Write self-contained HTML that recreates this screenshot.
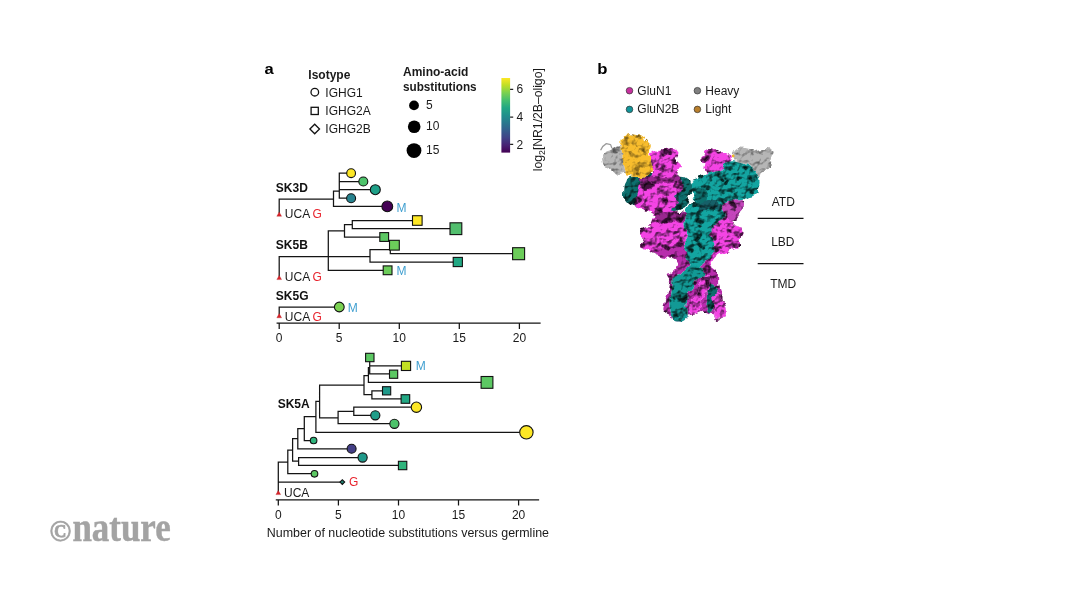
<!DOCTYPE html>
<html lang="en"><head><meta charset="utf-8"><title>Figure</title>
<style>
html,body{margin:0;padding:0;background:#fff}
body{width:1066px;height:600px;overflow:hidden;position:relative}
svg{position:absolute;left:0;top:0;display:block}
text{font-family:"Liberation Sans",sans-serif;font-size:12px;fill:#1a1a1a}
.b{font-weight:bold;fill:#111}
.sb{font-weight:bold;font-size:12px}
.pl{font-weight:bold;font-size:15.5px;fill:#000}
.r{fill:#e8232d}
.m{fill:#3f9fd0}
.logo{font-family:"Liberation Serif",serif;font-weight:bold;fill:#a3a3a3;font-size:33px}
.mg{fill:#f444e4}
.mgd{fill:#c445bb}
.mgs{fill:#b82cac}
.tls{fill:#129995}
.sh{fill:#1a001a;fill-opacity:.42}
.tl{fill:#13a5a1}
.tld{fill:#0d6f6d}
.yl{fill:#f8bd2d}
.gy{fill:#b6b6b6}
</style></head>
<body>
<svg width="1066" height="600" viewBox="0 0 1066 600">
<defs><linearGradient id="vir" x1="0" y1="0" x2="0" y2="1"><stop offset="0.0" stop-color="#fde724"/><stop offset="0.1" stop-color="#bdde26"/><stop offset="0.2" stop-color="#79d151"/><stop offset="0.3" stop-color="#44be70"/><stop offset="0.4" stop-color="#22a784"/><stop offset="0.5" stop-color="#20908c"/><stop offset="0.6" stop-color="#29788e"/><stop offset="0.7" stop-color="#345e8d"/><stop offset="0.8" stop-color="#404387"/><stop offset="0.9" stop-color="#482374"/><stop offset="1.0" stop-color="#440154"/></linearGradient>
<filter id="bump" x="-10%" y="-10%" width="120%" height="120%" color-interpolation-filters="sRGB">
<feTurbulence type="fractalNoise" baseFrequency="0.115" numOctaves="3" seed="11" result="n"/>
<feDisplacementMap in="SourceGraphic" in2="n" scale="7" xChannelSelector="R" yChannelSelector="G" result="d"/>
<feDiffuseLighting in="n" surfaceScale="6.5" diffuseConstant="1.32" lighting-color="#ffffff" result="l"><feDistantLight azimuth="240" elevation="52"/></feDiffuseLighting>
<feComponentTransfer in="l" result="l2"><feFuncR type="linear" slope="0.72" intercept="0.28"/><feFuncG type="linear" slope="0.72" intercept="0.28"/><feFuncB type="linear" slope="0.72" intercept="0.28"/></feComponentTransfer>
<feComposite in="l2" in2="d" operator="in" result="lc"/>
<feBlend in="d" in2="lc" mode="multiply" result="m"/>
<feColorMatrix in="n" type="matrix" values="0 0 0 0 0  0 0 0 0 0  0 0 0 0 0  0 0 0 -7 2.85" result="sp"/>
<feComponentTransfer in="sp" result="sp2"><feFuncA type="linear" slope="0.72"/></feComponentTransfer>
<feComposite in="sp2" in2="d" operator="in" result="sc"/>
<feMerge><feMergeNode in="m"/><feMergeNode in="sc"/></feMerge>
</filter>
<filter id="bump2" x="-10%" y="-10%" width="120%" height="120%" color-interpolation-filters="sRGB">
<feTurbulence type="fractalNoise" baseFrequency="0.115" numOctaves="3" seed="11" result="n"/>
<feDisplacementMap in="SourceGraphic" in2="n" scale="7" xChannelSelector="R" yChannelSelector="G" result="d"/>
<feDiffuseLighting in="n" surfaceScale="4" diffuseConstant="1.32" lighting-color="#ffffff" result="l"><feDistantLight azimuth="240" elevation="52"/></feDiffuseLighting>
<feComponentTransfer in="l" result="l2"><feFuncR type="linear" slope="0.6" intercept="0.4"/><feFuncG type="linear" slope="0.6" intercept="0.4"/><feFuncB type="linear" slope="0.6" intercept="0.4"/></feComponentTransfer>
<feComposite in="l2" in2="d" operator="in" result="lc"/>
<feBlend in="d" in2="lc" mode="multiply" result="m"/>
<feColorMatrix in="n" type="matrix" values="0 0 0 0 0  0 0 0 0 0  0 0 0 0 0  0 0 0 -7 2.55" result="sp"/>
<feComponentTransfer in="sp" result="sp2"><feFuncA type="linear" slope="0.5"/></feComponentTransfer>
<feComposite in="sp2" in2="d" operator="in" result="sc"/>
<feMerge><feMergeNode in="m"/><feMergeNode in="sc"/></feMerge>
</filter>
</defs>
<rect width="1066" height="600" fill="#fff"/>
<path d="M279.2 199.0V212.5M279.2 199.0H333.5M333.5 191.0V206.3M333.5 206.3H387.3M333.5 191.0H339.3M339.3 173.2V198.2M339.3 173.2H351.1M339.3 181.5H363.3M339.3 189.7H375.3M339.3 198.2H351.1M279.2 256.5V276.0M279.2 256.5H370.0M328.3 230.8V270.3M328.3 270.3H387.6M370.0 249.7V262.0M370.0 262.0H457.8M370.0 249.7H390.3M390.3 245.2V253.5M390.3 253.5H518.6M328.3 230.8H344.5M344.5 224.5V237.0M344.5 237.0H384.2M344.5 224.5H352.3M352.3 220.5V228.7M352.3 220.5H417.3M352.3 228.7H455.9M279.2 307.0V314.0M279.2 307.0H339.3M277.2 323.2H540.0M279.2 323.2V328.3M339.2 323.2V328.3M399.3 323.2V328.3M459.3 323.2V328.3M519.4 323.2V328.3M278.3 462.0V491.5M278.3 462.0H287.8M278.3 482.1H342.3M287.8 450.0V473.7M287.8 450.0H292.6M287.8 473.7H314.5M292.6 438.6V461.2M292.6 438.6H297.8M292.6 461.2H298.6M298.6 457.5V465.4M298.6 457.5H362.6M298.6 465.4H402.6M297.8 428.5V448.8M297.8 428.5H304.3M297.8 448.8H351.6M304.3 416.7V440.5M304.3 416.7H315.9M304.3 440.5H313.6M315.9 401.3V432.3M315.9 401.3H319.6M315.9 432.3H526.4M319.6 385.1V417.8M319.6 385.1H364.0M319.6 417.8H338.1M338.1 411.4V423.6M338.1 411.4H353.8M338.1 423.6H394.4M353.8 407.1V415.3M353.8 407.1H416.3M353.8 415.3H375.3M364.0 375.5V394.6M364.0 375.5H368.4M364.0 394.6H371.9M371.9 390.8V398.9M371.9 390.8H386.6M371.9 398.9H405.4M368.4 367.5V382.3M368.4 382.3H487.0M368.4 367.5H369.7M369.7 357.5V373.9M369.7 365.8H406.0M369.7 373.9H393.6M276.4 499.9H538.5M278.3 499.9V504.8M338.4 499.9V504.8M398.5 499.9V504.8M458.5 499.9V504.8M518.6 499.9V504.8" fill="none" stroke="#141414" stroke-width="1.25" stroke-linecap="square"/>
<g stroke="#111" stroke-width="1.1"><circle cx="351.1" cy="173.2" r="4.4" fill="#fde725"/><circle cx="363.3" cy="181.5" r="4.5" fill="#4ec36b"/><circle cx="375.3" cy="189.7" r="5.0" fill="#1fa088"/><circle cx="351.1" cy="198.2" r="4.5" fill="#26828e"/><circle cx="387.3" cy="206.4" r="5.4" fill="#440154"/><rect x="412.5" y="215.7" width="9.6" height="9.6" fill="#fde725"/><rect x="450.0" y="222.8" width="11.8" height="11.8" fill="#52bf6e"/><rect x="379.8" y="232.6" width="8.8" height="8.8" fill="#5cc863"/><rect x="389.5" y="240.3" width="9.8" height="9.8" fill="#6ccd5a"/><rect x="512.6" y="247.7" width="12.0" height="12.0" fill="#6ccd5a"/><rect x="453.2" y="257.4" width="9.2" height="9.2" fill="#22a884"/><rect x="383.2" y="265.9" width="8.8" height="8.8" fill="#6ccd5a"/><circle cx="339.3" cy="307.0" r="4.9" fill="#7ad151"/><rect x="365.6" y="353.3" width="8.4" height="8.4" fill="#5cc863"/><rect x="401.4" y="361.3" width="9.2" height="9.2" fill="#c2df23"/><rect x="389.5" y="370.1" width="8.2" height="8.2" fill="#5cc863"/><rect x="481.1" y="376.5" width="11.8" height="11.8" fill="#5cc863"/><rect x="382.5" y="386.7" width="8.2" height="8.2" fill="#1f998a"/><rect x="401.1" y="394.7" width="8.6" height="8.6" fill="#22a884"/><circle cx="416.4" cy="407.2" r="5.2" fill="#fde725"/><circle cx="375.3" cy="415.3" r="4.6" fill="#1f9e89"/><circle cx="394.4" cy="423.8" r="4.6" fill="#4ec36b"/><circle cx="526.4" cy="432.3" r="6.7" fill="#fde725"/><circle cx="313.6" cy="440.5" r="3.3" fill="#2fb47c"/><circle cx="351.6" cy="448.8" r="4.5" fill="#433e85"/><circle cx="362.6" cy="457.5" r="4.6" fill="#1f998a"/><rect x="398.4" y="461.3" width="8.4" height="8.4" fill="#2fb47c"/><circle cx="314.5" cy="473.8" r="3.3" fill="#5cc863"/><path d="M339.9 482.1L342.3 479.7L344.7 482.1L342.3 484.5Z" fill="#1f8070"/></g>
<g fill="#d8232a" stroke="#b01a20" stroke-width="0.3"><path d="M279.2 212.0L281.6 216.3H276.8Z"/><path d="M279.2 275.4L281.6 279.6H276.8Z"/><path d="M279.2 313.6L281.6 317.8H276.8Z"/><path d="M278.3 490.6L280.7 494.6H275.9Z"/></g>
<text x="275.8" y="191.8" class="b">SK3D</text>
<text x="275.8" y="248.5" class="b">SK5B</text>
<text x="275.8" y="299.8" class="b">SK5G</text>
<text x="277.7" y="408.0" class="b">SK5A</text>
<text x="284.8" y="218.0">UCA</text>
<text x="312.5" y="218.0" class="r">G</text>
<text x="284.8" y="281.3">UCA</text>
<text x="312.5" y="281.3" class="r">G</text>
<text x="284.8" y="320.5">UCA</text>
<text x="312.5" y="320.5" class="r">G</text>
<text x="284.0" y="497.3">UCA</text>
<text x="349.0" y="485.7" class="r">G</text>
<text x="396.6" y="211.5" class="m">M</text>
<text x="396.6" y="275.3" class="m">M</text>
<text x="347.8" y="312.0" class="m">M</text>
<text x="415.8" y="369.5" class="m">M</text>
<text x="279.2" y="341.6" text-anchor="middle">0</text>
<text x="278.3" y="518.9" text-anchor="middle">0</text>
<text x="339.2" y="341.6" text-anchor="middle">5</text>
<text x="338.4" y="518.9" text-anchor="middle">5</text>
<text x="399.3" y="341.6" text-anchor="middle">10</text>
<text x="398.5" y="518.9" text-anchor="middle">10</text>
<text x="459.3" y="341.6" text-anchor="middle">15</text>
<text x="458.5" y="518.9" text-anchor="middle">15</text>
<text x="519.4" y="341.6" text-anchor="middle">20</text>
<text x="518.6" y="518.9" text-anchor="middle">20</text>
<text x="266.8" y="536.9" textLength="282.2" lengthAdjust="spacingAndGlyphs">Number of nucleotide substitutions versus germline</text>
<text x="264.6" y="73.8" class="pl" textLength="9.2" lengthAdjust="spacingAndGlyphs">a</text>
<text x="308.3" y="78.8" class="sb">Isotype</text>
<g fill="none" stroke="#111" stroke-width="1.3"><circle cx="314.8" cy="92.2" r="3.8"/><rect x="311.1" y="107.3" width="7.2" height="7.2"/><path d="M309.9 129L314.7 124.2L319.5 129L314.7 133.8Z"/></g>
<text x="325.3" y="96.7">IGHG1</text>
<text x="325.3" y="115.3">IGHG2A</text>
<text x="325.3" y="133.3">IGHG2B</text>
<text x="403.0" y="75.6" class="sb">Amino-acid</text>
<text x="403.0" y="90.7" class="sb" textLength="73.6" lengthAdjust="spacingAndGlyphs">substitutions</text>
<g fill="#000"><circle cx="414" cy="105.4" r="4.9"/><circle cx="414.2" cy="126.7" r="6.3"/><circle cx="414" cy="150.6" r="7.4"/></g>
<text x="426.0" y="108.7">5</text>
<text x="426.0" y="130.1">10</text>
<text x="426.0" y="154.1">15</text>
<rect x="501.4" y="78" width="8.7" height="74.6" fill="url(#vir)"/>
<path d="M510.1 89.4H513.2M510.1 117.1H513.2M510.1 144.4H513.2" stroke="#222" stroke-width="1.1" fill="none"/>
<text x="516.6" y="93.3">6</text>
<text x="516.6" y="121.1">4</text>
<text x="516.6" y="148.5">2</text>
<text transform="translate(542.3 171.2) rotate(-90)" textLength="103" lengthAdjust="spacingAndGlyphs">log<tspan style="font-size:8.6px" dy="2.6">2</tspan><tspan dy="-2.6">[NR1/2B–oligo]</tspan></text>
<g filter="url(#bump2)">
<g class="gy"><path d="M602.2 157.5C602.4 156.4 603.3 155.2 604.0 154.2C604.7 153.3 605.2 152.4 606.2 151.7C607.2 151.0 608.6 150.8 610.0 150.2C611.4 149.6 612.9 148.7 614.6 147.9C616.4 147.2 619.0 146.2 620.5 145.8C622.0 145.5 622.9 143.0 623.5 146.0C624.1 149.0 623.9 159.5 624.2 164.0C624.6 168.5 625.9 171.3 625.7 173.0C625.5 174.6 624.5 173.6 623.0 173.9C621.6 174.2 618.9 175.3 617.2 174.9C615.5 174.6 614.6 172.7 613.0 171.6C611.4 170.6 609.3 169.6 607.7 168.5C606.2 167.4 604.7 166.3 603.8 165.0C603.0 163.8 602.8 162.2 602.5 161.0C602.2 159.7 601.9 158.7 602.2 157.5Z"/><path d="M734.5 151.2C735.7 149.7 738.0 147.9 740.5 147.5C743.0 147.1 746.7 148.6 749.5 149.0C752.2 149.4 754.5 149.7 757.0 149.7C759.5 149.7 761.7 148.9 764.5 149.0C767.2 149.1 772.4 149.1 773.5 150.5C774.6 151.9 771.5 155.0 771.2 157.2C771.0 159.5 772.9 162.1 772.0 164.0C771.1 165.9 767.7 167.0 766.0 168.5C764.2 170.0 762.7 171.5 761.5 173.0C760.2 174.5 760.2 177.5 758.5 177.5C756.7 177.5 753.2 175.0 751.0 173.0C748.7 171.0 747.0 167.2 745.0 165.5C743.0 163.7 740.6 163.4 739.0 162.5C737.4 161.6 736.2 161.2 735.2 160.2C734.3 159.3 733.4 158.3 733.3 156.8C733.2 155.3 733.3 152.8 734.5 151.2Z"/></g>
</g>
<g filter="url(#bump)">
<g class="tld"><path d="M626.0 182.0C627.0 179.0 626.8 177.5 630.0 176.0C633.2 174.5 638.3 173.3 645.0 173.0C651.7 172.7 663.8 173.3 670.0 174.0C676.2 174.7 679.0 176.3 682.0 177.0C685.0 177.7 686.5 176.8 688.0 178.0C689.5 179.2 690.5 181.7 691.0 184.0C691.5 186.3 691.5 189.5 691.0 192.0C690.5 194.5 689.2 196.5 688.0 199.0C686.8 201.5 687.0 204.8 684.0 207.0C681.0 209.2 676.5 211.7 670.0 212.0C663.5 212.3 651.3 210.0 645.0 209.0C638.7 208.0 635.2 207.3 632.0 206.0C628.8 204.7 626.8 203.0 625.5 201.0C624.2 199.0 623.9 197.2 624.0 194.0C624.1 190.8 625.0 185.0 626.0 182.0Z"/></g>
<g class="mgd"><path d="M717.0 206.0C719.2 203.7 724.2 200.3 728.0 199.0C731.8 197.7 737.3 197.1 740.0 198.0C742.7 198.9 743.7 202.3 744.0 204.5C744.3 206.7 743.2 208.8 742.0 211.0C740.8 213.2 739.2 215.8 737.0 217.5C734.8 219.2 731.2 220.7 728.5 221.0C725.8 221.3 722.8 220.8 720.5 219.5C718.2 218.2 715.1 215.2 714.5 213.0C713.9 210.8 714.8 208.3 717.0 206.0Z"/></g>
<g class="mg"><path d="M712.0 224.0C714.0 221.5 716.0 221.0 718.0 220.0C720.0 219.0 722.0 217.8 724.0 218.0C726.0 218.2 728.2 219.8 730.0 221.0C731.8 222.2 732.8 224.5 734.5 225.5C736.2 226.5 739.0 225.8 740.5 227.0C742.0 228.2 743.5 231.0 743.5 233.0C743.5 235.0 741.2 237.0 740.7 239.0C740.2 241.0 741.7 243.5 740.7 245.0C739.7 246.5 736.5 247.2 734.5 248.2C732.5 249.2 730.9 250.2 728.5 251.2C726.1 252.2 722.4 253.0 720.0 254.2C717.6 255.4 715.4 256.9 714.0 258.5C712.6 260.1 711.9 262.1 711.5 264.0C711.1 265.9 710.9 268.2 711.5 270.0C712.1 271.8 713.8 273.0 715.0 274.5C716.2 276.0 718.5 277.1 718.5 279.0C718.5 280.9 717.6 285.2 715.0 286.0C712.4 286.8 705.5 286.7 703.0 284.0C700.5 281.3 700.0 275.7 700.0 270.0C700.0 264.3 702.0 255.8 703.0 250.0C704.0 244.2 704.5 239.3 706.0 235.0C707.5 230.7 710.0 226.5 712.0 224.0Z"/><path d="M655.0 216.5C652.5 218.5 653.2 220.7 652.0 222.5C650.7 224.2 649.4 225.7 647.5 227.0C645.6 228.2 641.9 228.2 640.7 230.0C639.6 231.7 640.1 235.5 640.4 237.5C640.8 239.5 642.9 240.5 643.0 242.0C643.1 243.5 640.4 245.4 641.2 246.5C641.9 247.5 645.7 247.5 647.5 248.3C649.3 249.1 650.2 250.2 652.0 251.3C653.7 252.4 655.7 254.0 658.0 255.0C660.2 256.0 663.0 256.5 665.5 257.3C668.0 258.0 670.7 259.0 673.0 259.5C675.2 260.0 677.4 259.7 679.0 260.3C680.5 260.9 682.3 261.8 682.3 263.0C682.3 264.2 678.0 266.2 679.0 267.5C679.9 268.7 685.0 271.7 688.0 270.5C691.0 269.2 695.0 265.5 697.0 260.0C699.0 254.5 700.7 244.5 700.0 237.5C699.2 230.5 696.0 222.2 692.5 218.0C689.0 213.7 683.2 213.2 679.0 212.0C674.7 210.7 671.0 209.7 667.0 210.5C663.0 211.2 657.5 214.5 655.0 216.5Z"/></g>
<g class="mgs"><path d="M651.5 250.0C645.5 251.7 656.0 254.7 659.0 256.0C662.0 257.2 666.5 256.5 669.5 257.5C672.5 258.5 676.0 260.2 677.0 262.0C678.0 263.7 676.5 266.2 675.5 268.0C674.5 269.7 672.4 271.4 671.0 272.5C669.5 273.5 667.0 273.0 666.8 274.3C666.6 275.5 669.3 277.8 669.8 280.0C670.2 282.2 669.9 285.0 669.5 287.5C669.1 290.0 668.0 292.7 667.2 295.0C666.5 297.2 665.6 298.5 665.0 301.0C664.4 303.5 662.7 307.7 663.5 310.0C664.2 312.3 667.7 313.1 669.5 314.8C671.2 316.4 672.0 318.8 674.0 319.9C676.0 321.0 679.4 321.7 681.5 321.4C683.6 321.0 685.4 319.1 686.7 317.8C688.0 316.4 687.9 313.8 689.3 313.3C690.7 312.8 692.8 315.0 695.0 314.8C697.2 314.5 700.5 312.0 702.5 311.8C704.5 311.5 705.2 312.8 707.0 313.3C708.7 313.8 711.4 313.7 713.0 314.8C714.6 315.9 715.0 319.6 716.7 319.9C718.5 320.1 722.0 317.9 723.5 316.3C725.0 314.6 725.9 312.3 725.9 310.0C725.9 307.7 724.1 305.0 723.5 302.5C722.8 300.0 722.7 297.7 722.0 295.0C721.3 292.2 719.8 289.0 719.3 286.0C718.8 283.0 719.5 279.5 719.0 277.0C718.4 274.5 717.5 272.9 716.0 271.0C714.5 269.1 710.9 267.7 710.0 265.7C709.1 263.7 709.7 261.0 710.7 259.0C711.7 257.0 714.1 255.2 716.0 253.7C717.9 252.2 725.5 251.4 722.0 250.0C718.5 248.6 706.7 245.5 695.0 245.5C683.2 245.5 657.5 248.3 651.5 250.0Z"/></g>
<g class="mg"><path d="M651.2 152.7C652.7 151.1 655.6 150.4 658.0 149.7C660.4 149.1 662.7 149.2 665.5 149.0C668.2 148.7 672.3 147.5 674.5 148.2C676.6 149.0 678.0 151.6 678.4 153.5C678.8 155.4 676.5 157.7 676.9 159.5C677.3 161.3 680.7 162.5 680.9 164.3C681.2 166.0 678.9 168.0 678.4 170.0C677.8 171.9 677.0 173.7 677.6 176.0C678.3 178.2 681.5 181.0 682.1 183.5C682.8 186.0 682.1 189.0 681.4 191.0C680.6 193.0 678.4 193.5 677.6 195.5C676.9 197.5 677.5 200.7 676.9 203.0C676.3 205.2 675.0 206.7 673.9 209.0C672.7 211.2 671.4 214.5 670.0 216.5C668.6 218.5 668.0 220.9 665.5 221.0C663.0 221.0 658.0 218.4 655.0 216.8C652.0 215.2 650.0 212.8 647.5 211.5C645.0 210.3 642.1 210.0 640.0 209.1C637.8 208.2 635.4 207.2 634.6 206.1C633.8 205.1 634.8 204.8 635.2 203.0C635.6 201.2 636.3 198.0 637.0 195.5C637.7 193.0 638.5 190.2 639.2 188.0C640.0 185.7 641.4 183.6 641.5 182.0C641.6 180.4 639.5 179.1 640.0 178.2C640.5 177.4 642.5 177.1 644.5 176.7C646.5 176.4 650.6 177.1 652.0 176.0C653.4 174.9 653.1 171.7 652.7 170.0C652.4 168.2 650.4 167.2 649.7 165.5C649.1 163.7 648.7 161.6 649.0 159.5C649.2 157.4 649.7 154.4 651.2 152.7Z"/><path d="M703.0 156.5C704.0 154.7 705.9 151.6 707.5 150.5C709.1 149.4 711.2 149.4 712.7 149.7C714.2 150.1 714.9 152.4 716.5 152.7C718.1 153.1 720.5 151.6 722.5 152.0C724.5 152.4 726.9 154.1 728.5 155.0C730.0 155.9 731.8 155.9 731.8 157.4C731.8 158.9 730.0 161.6 728.5 164.0C726.9 166.3 724.7 169.7 722.5 171.5C720.2 173.2 717.5 174.1 715.0 174.5C712.5 174.9 709.2 174.7 707.5 173.7C705.7 172.7 704.9 170.2 704.5 168.5C704.1 166.7 705.7 164.5 705.2 163.2C704.7 162.0 701.9 162.1 701.5 161.0C701.1 159.9 702.0 158.2 703.0 156.5Z"/></g>
<g class="sh"><path d="M640.0 177.2C641.5 175.8 647.7 175.4 652.0 175.4C656.2 175.3 661.1 176.9 665.5 176.9C669.9 176.8 676.0 174.4 678.4 175.1C680.8 175.7 682.0 179.3 679.9 180.8C677.7 182.2 670.1 183.6 665.5 183.8C660.8 184.0 655.7 182.0 652.0 182.0C648.2 182.0 645.0 184.6 643.0 183.8C641.0 183.0 638.5 178.6 640.0 177.2Z"/><path d="M655.0 215.0C656.7 213.2 662.0 212.2 667.0 212.0C672.0 211.7 682.0 211.7 685.0 213.5C688.0 215.2 687.5 221.2 685.0 222.5C682.5 223.7 674.7 221.0 670.0 221.0C665.2 221.0 659.0 223.5 656.5 222.5C654.0 221.5 653.2 216.7 655.0 215.0Z"/></g>
</g>
<g filter="url(#bump2)">
<g class="yl"><path d="M622.7 139.2C623.9 137.1 625.4 135.5 627.2 134.7C629.1 134.0 631.9 134.5 634.0 134.7C636.1 135.0 638.1 135.4 640.0 136.2C641.9 137.1 643.4 138.5 645.2 140.0C647.0 141.5 650.2 143.2 650.8 145.2C651.4 147.2 649.0 149.6 649.0 152.0C648.9 154.4 650.0 156.7 650.5 159.5C651.0 162.2 652.4 166.0 652.1 168.5C651.9 171.0 650.5 173.1 649.0 174.5C647.5 175.9 645.2 176.6 643.0 176.9C640.7 177.2 638.0 176.5 635.5 176.1C633.0 175.8 629.7 175.3 628.0 174.6C626.2 174.0 625.9 174.0 625.0 172.2C624.1 170.5 623.4 166.9 622.7 164.0C622.1 161.1 621.6 157.7 621.2 155.0C620.9 152.2 620.2 150.1 620.5 147.5C620.7 144.9 621.6 141.4 622.7 139.2Z"/></g>
</g>
<g filter="url(#bump)">
<g class="tl"><path d="M727.0 161.7C728.2 161.1 730.5 159.9 733.0 160.2C735.5 160.4 739.2 162.6 742.0 163.2C744.8 163.8 747.5 162.9 749.5 164.0C751.5 165.1 752.5 167.9 754.0 170.0C755.5 172.1 757.6 174.7 758.5 176.7C759.4 178.7 759.6 180.1 759.4 182.0C759.1 183.9 757.1 186.2 757.0 188.0C756.9 189.8 759.1 191.2 758.6 192.5C758.1 193.8 755.8 194.8 754.0 195.5C752.2 196.2 750.0 196.2 748.0 197.0C746.0 197.8 745.0 199.4 742.0 200.0C739.0 200.6 733.3 199.7 730.0 200.5C726.7 201.3 723.2 203.3 722.0 205.0C720.8 206.7 722.4 208.6 723.0 210.5C723.6 212.4 726.4 214.5 725.6 216.5C724.8 218.5 720.3 220.8 718.0 222.5C715.7 224.2 713.2 225.2 712.0 227.0C710.8 228.8 710.2 230.8 710.5 233.0C710.8 235.2 712.8 238.0 713.5 240.5C714.2 243.0 715.2 245.5 715.0 248.0C714.8 250.5 713.5 253.5 712.0 255.5C710.5 257.5 707.5 258.4 706.0 260.0C704.5 261.6 704.1 263.9 703.0 265.0C701.9 266.1 701.3 266.5 699.5 266.5C697.7 266.5 694.1 266.2 692.0 265.0C689.9 263.8 687.9 261.3 687.0 259.0C686.1 256.7 686.8 253.6 686.5 251.0C686.2 248.4 684.8 246.0 685.0 243.5C685.2 241.0 688.0 238.2 688.0 236.0C688.0 233.8 685.8 232.2 685.0 230.0C684.2 227.8 683.2 225.0 683.5 222.5C683.8 220.0 686.4 217.2 686.5 215.0C686.6 212.8 683.4 210.8 684.0 209.0C684.6 207.2 688.3 205.9 690.0 204.0C691.7 202.1 693.8 199.9 694.0 197.5C694.2 195.1 691.2 192.1 691.0 189.5C690.8 186.9 691.2 183.8 692.5 182.0C693.8 180.2 696.5 180.2 698.5 179.0C700.5 177.8 701.8 175.8 704.5 174.5C707.2 173.2 712.2 172.2 715.0 171.5C717.8 170.8 719.2 171.2 721.0 170.0C722.8 168.8 724.5 165.4 725.5 164.0C726.5 162.6 725.8 162.3 727.0 161.7Z"/></g>
<g class="sh"><path d="M700.0 203.0C701.3 201.3 705.3 199.3 708.0 199.0C710.7 198.7 713.7 200.0 716.0 201.0C718.3 202.0 721.0 203.3 722.0 205.0C723.0 206.7 723.3 210.3 722.0 211.0C720.7 211.7 716.7 209.2 714.0 209.0C711.3 208.8 708.3 210.0 706.0 210.0C703.7 210.0 701.0 210.2 700.0 209.0C699.0 207.8 698.7 204.7 700.0 203.0Z"/></g>
<g class="tld"><path d="M695.5 189.0C696.1 187.4 698.4 186.3 700.0 186.5C701.6 186.7 703.8 188.2 705.0 190.0C706.2 191.8 707.2 194.8 707.0 197.0C706.8 199.2 705.5 201.4 704.0 203.0C702.5 204.6 699.5 206.7 698.0 206.5C696.5 206.3 695.2 203.8 695.0 202.0C694.8 200.2 696.4 198.2 696.5 196.0C696.6 193.8 694.9 190.6 695.5 189.0Z"/></g>
<g class="tls"><path d="M674.0 275.5C675.2 274.5 678.2 275.0 680.0 274.0C681.7 273.0 682.5 271.0 684.5 269.5C686.5 268.0 689.5 265.5 692.0 265.0C694.5 264.5 697.4 265.2 699.5 266.5C701.5 267.7 704.3 270.5 704.3 272.5C704.3 274.5 701.0 276.7 699.5 278.5C697.9 280.2 696.2 281.2 695.0 283.0C693.7 284.7 693.2 287.0 692.0 289.0C690.7 291.0 688.5 293.0 687.5 295.0C686.5 297.0 686.0 298.5 686.0 301.0C686.0 303.5 687.3 307.2 687.5 310.0C687.6 312.7 687.9 315.6 686.9 317.5C685.9 319.4 683.6 321.0 681.5 321.4C679.3 321.8 675.7 321.3 674.0 319.9C672.2 318.5 671.7 315.6 671.0 313.0C670.2 310.3 669.5 307.0 669.5 304.0C669.5 301.0 670.5 298.0 671.0 295.0C671.5 292.0 672.2 288.5 672.5 286.0C672.7 283.5 672.2 281.7 672.5 280.0C672.7 278.2 672.7 276.5 674.0 275.5Z"/></g>
<g class="tld"><path d="M707.0 286.0C708.0 283.7 711.4 283.5 713.0 284.5C714.5 285.5 716.0 289.2 716.3 292.0C716.6 294.7 715.3 298.2 714.8 301.0C714.2 303.8 714.0 306.7 713.0 308.8C711.9 310.8 709.7 313.6 708.5 313.3C707.2 313.0 705.7 309.5 705.5 307.0C705.2 304.4 706.7 301.5 707.0 298.0C707.2 294.5 706.0 288.2 707.0 286.0Z"/></g>
<g class="mg"><path d="M704.0 275.5C705.5 274.5 709.5 275.5 710.3 277.0C711.1 278.5 709.5 282.0 708.8 284.5C708.0 287.0 706.8 289.5 705.8 292.0C704.8 294.5 703.5 297.0 702.8 299.5C702.0 302.0 702.5 304.6 701.3 307.0C700.0 309.3 697.1 313.0 695.3 313.6C693.4 314.1 691.0 312.1 690.2 310.3C689.4 308.4 689.7 304.8 690.5 302.5C691.3 300.2 693.5 298.5 695.0 296.5C696.5 294.5 698.4 292.7 699.5 290.5C700.5 288.2 700.5 285.5 701.3 283.0C702.0 280.5 702.5 276.5 704.0 275.5Z"/><path d="M713.7 295.0C714.6 293.7 717.4 292.2 719.0 293.5C720.6 294.7 722.1 299.7 723.2 302.5C724.3 305.2 725.5 307.7 725.6 310.0C725.6 312.2 724.9 314.4 723.5 316.0C722.1 317.5 718.7 319.5 717.2 319.3C715.6 319.0 714.5 316.5 714.2 314.5C713.8 312.4 715.2 309.2 715.1 307.0C715.0 304.7 713.8 303.0 713.6 301.0C713.4 299.0 712.8 296.2 713.7 295.0Z"/></g>
</g>
<circle id="ydot" cx="733.2" cy="156" r="1.4" fill="#eeb52c"/>
<path id="hook" d="M600.6 150.2Q602.6 145.6 606.3 143.6L610.6 144.6L611.9 148.2" fill="none" stroke="#9c9c9c" stroke-width="1.3" stroke-linejoin="round"/>
<text x="597.3" y="73.8" class="pl" textLength="10.2" lengthAdjust="spacingAndGlyphs">b</text>
<g stroke="#333" stroke-width="0.7"><circle cx="629.5" cy="90.7" r="3.3" fill="#c7309f"/><circle cx="629.5" cy="109.4" r="3.3" fill="#11959a"/><circle cx="697.4" cy="90.7" r="3.3" fill="#808080"/><circle cx="697.4" cy="109.4" r="3.3" fill="#b97f2c"/></g>
<text x="637.3" y="94.9">GluN1</text><text x="637.3" y="113.4">GluN2B</text><text x="705.3" y="94.9">Heavy</text><text x="705.3" y="113.4">Light</text>
<text x="771.7" y="205.8">ATD</text><text x="771.2" y="245.5">LBD</text><text x="770.2" y="287.8">TMD</text>
<path d="M757.7 218.3H803.5M757.7 263.7H803.5" stroke="#111" stroke-width="1.2" fill="none"/>
<text x="49.5" y="540.8" class="logo" style="font-size:29px;stroke:#a3a3a3;stroke-width:0.7px">©</text><text x="72.4" y="540.7" class="logo" style="font-size:41px;stroke:#a3a3a3;stroke-width:0.5px" textLength="98.3" lengthAdjust="spacingAndGlyphs">nature</text>

</svg>
</body></html>
